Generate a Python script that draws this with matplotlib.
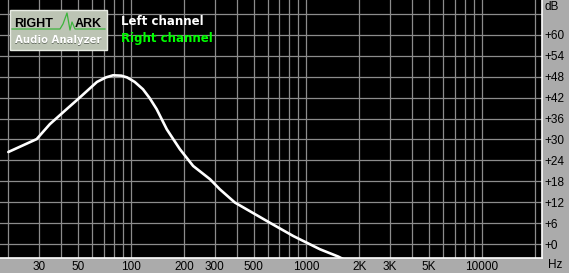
import matplotlib
matplotlib.use("Agg")
import matplotlib.pyplot as plt
from matplotlib.patches import Rectangle

# frequency response (Hz, dB)
freq = [20, 29, 34.5, 43, 51, 64, 72, 79, 88, 95, 105, 117, 128, 140, 160, 190,
        226, 282, 321, 391, 500, 619, 841, 1194, 1518, 1800]
level = [26.4, 30.1, 34.4, 38.7, 42.0, 46.5, 47.8, 48.4, 48.3, 47.8, 46.5, 44.4,
         41.8, 38.7, 32.9, 27.2, 22.4, 18.6, 15.7, 11.9, 8.8, 6.1, 2.3, -1.5, -3.6, -5.5]

x_grid = [20, 30, 40, 50, 60, 70, 80, 90, 100, 200, 300, 400, 500, 600, 700, 800, 900,
          1000, 2000, 3000, 4000, 5000, 6000, 7000, 8000, 9000, 10000, 20000]
x_labels = {30: "30", 50: "50", 100: "100", 200: "200", 300: "300", 500: "500",
            1000: "1000", 2000: "2K", 3000: "3K", 5000: "5K", 10000: "10000"}
y_grid = [0, 6, 12, 18, 24, 30, 36, 42, 48, 54, 60, 66]

W, H = 569, 273
BG = "#ababab"
GRID = "#8c8c8c"

fig = plt.figure(figsize=(W / 100, H / 100), dpi=100, facecolor=BG)
ax = fig.add_axes([0, 15 / H, 542 / W, 258 / H], facecolor="black")

ax.set_xscale("log")
ax.set_xlim(17.93, 21980)
ax.set_ylim(-4, 70)

ax.set_xticks(x_grid)
ax.set_xticklabels([x_labels.get(f, "") for f in x_grid])
ax.xaxis.set_minor_locator(matplotlib.ticker.NullLocator())
ax.set_yticks(y_grid)
ax.set_yticklabels(["+%d" % v if v < 66 else "" for v in y_grid])
ax.yaxis.tick_right()
ax.tick_params(axis="both", length=0, labelsize=8.5, labelcolor="black")
ax.tick_params(axis="x", pad=2)
ax.tick_params(axis="y", pad=2)
for lab in ax.get_xticklabels() + ax.get_yticklabels():
    lab.set_family("Liberation Sans")
ax.grid(True, color=GRID, linewidth=0.9)

for side in ("top", "left"):
    ax.spines[side].set_visible(False)
for side in ("bottom", "right"):
    ax.spines[side].set_color("white")
    ax.spines[side].set_linewidth(1.2)

ax.plot(freq, level, color="white", linewidth=1.9, solid_capstyle="round", zorder=5)

# overlay in pixel coordinates for the header texts and logo
ov = fig.add_axes([0, 0, 1, 1], facecolor="none")
ov.set_xlim(0, W)
ov.set_ylim(H, 0)
ov.axis("off")

ov.text(545, 7, "dB", fontsize=8.5, family="Liberation Sans", va="center", ha="left")
ov.text(548, 265, "Hz", fontsize=8.5, family="Liberation Sans", va="center", ha="left")

ov.text(121, 21.5, "Left channel", color="white", fontsize=8.5, fontweight="bold",
        family="DejaVu Sans", va="center", ha="left")
ov.text(121, 38.5, "Right channel", color="#00ff00", fontsize=8.5, fontweight="bold",
        family="DejaVu Sans", va="center", ha="left")

# logo box
ov.add_patch(Rectangle((10, 10), 97, 40, facecolor="#bcc4b4", edgecolor="#e8ece4", linewidth=1))
ov.plot([12, 60, 63, 67, 70, 72, 75, 105], [29, 29, 24, 13, 30, 22, 29, 29],
        color="#3cb43c", linewidth=0.9)
ov.text(14, 24, "RIGHT", fontsize=9, fontweight="bold", family="Liberation Sans",
        va="center", ha="left", color="black")
ov.text(75, 24, "ARK", fontsize=9, fontweight="bold", family="Liberation Sans",
        va="center", ha="left", color="black")
ov.text(58.5, 40.5, "Audio Analyzer", fontsize=7.3, fontweight="bold", family="DejaVu Sans",
        va="center", ha="center", color="#6c7468")
ov.text(58, 40, "Audio Analyzer", fontsize=7.3, fontweight="bold", family="DejaVu Sans",
        va="center", ha="center", color="white")

fig.savefig("out.png", dpi=100, facecolor=BG)
